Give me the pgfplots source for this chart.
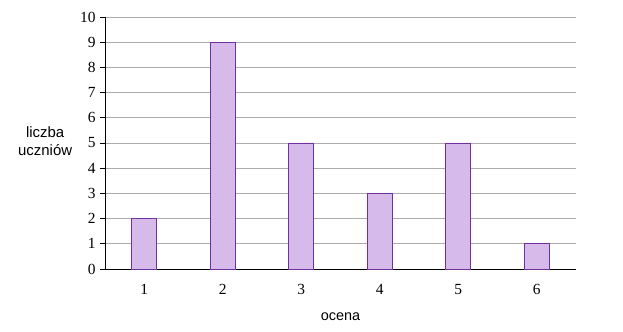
\documentclass[border=0pt]{standalone}
\usepackage{pgfplots}
\pgfplotsset{compat=1.18}
\usepackage{fontspec}
\setmainfont{Liberation Sans}
\newfontfamily\tickfont{Liberation Serif}
\definecolor{barfill}{RGB}{214,186,234}
\definecolor{barline}{RGB}{112,48,160}
\definecolor{gridc}{RGB}{172,172,172}
\begin{document}
\begin{tikzpicture}
\begin{axis}[
  at={(0,0)}, anchor=south west,
  scale only axis,
  width=471bp, height=252bp,
  xmin=0.5, xmax=6.5, ymin=0, ymax=10,
  axis x line=bottom, axis y line=left,
  axis line style={-, black, line width=0.9pt},
  xtick={1,2,3,4,5,6},
  ytick={0,1,...,10},
  xtick style={draw=none},
  ytick style={black, line width=0.8pt},
  tick align=outside,
  major tick length=5bp,
  ymajorgrids,
  grid style={gridc, line width=0.8pt},
  /pgf/number format/assume math mode=true,
  ticklabel style={font=\tickfont\fontsize{15.5}{18}\selectfont},
  yticklabel style={xshift=-1bp},
  xticklabel style={yshift=-7bp},
  xlabel={ocena},
  xlabel style={font=\fontsize{14.5}{17}\selectfont, at={(axis description cs:0.5,-0.19)}, anchor=center},
  ylabel={liczba\\uczniów},
  ylabel style={font=\fontsize{15}{18}\selectfont, rotate=-90, align=center, at={(axis description cs:-0.127,0.508)}, anchor=center},
  ybar, bar width=25bp,
]
\addplot[fill=barfill, draw=barline, line width=0.8pt] coordinates {(1,2) (2,9) (3,5) (4,3) (5,5) (6,1)};
\end{axis}
\pgfresetboundingbox
\useasboundingbox (-105bp,-63bp) rectangle (518bp,269bp);
\end{tikzpicture}
\end{document}
